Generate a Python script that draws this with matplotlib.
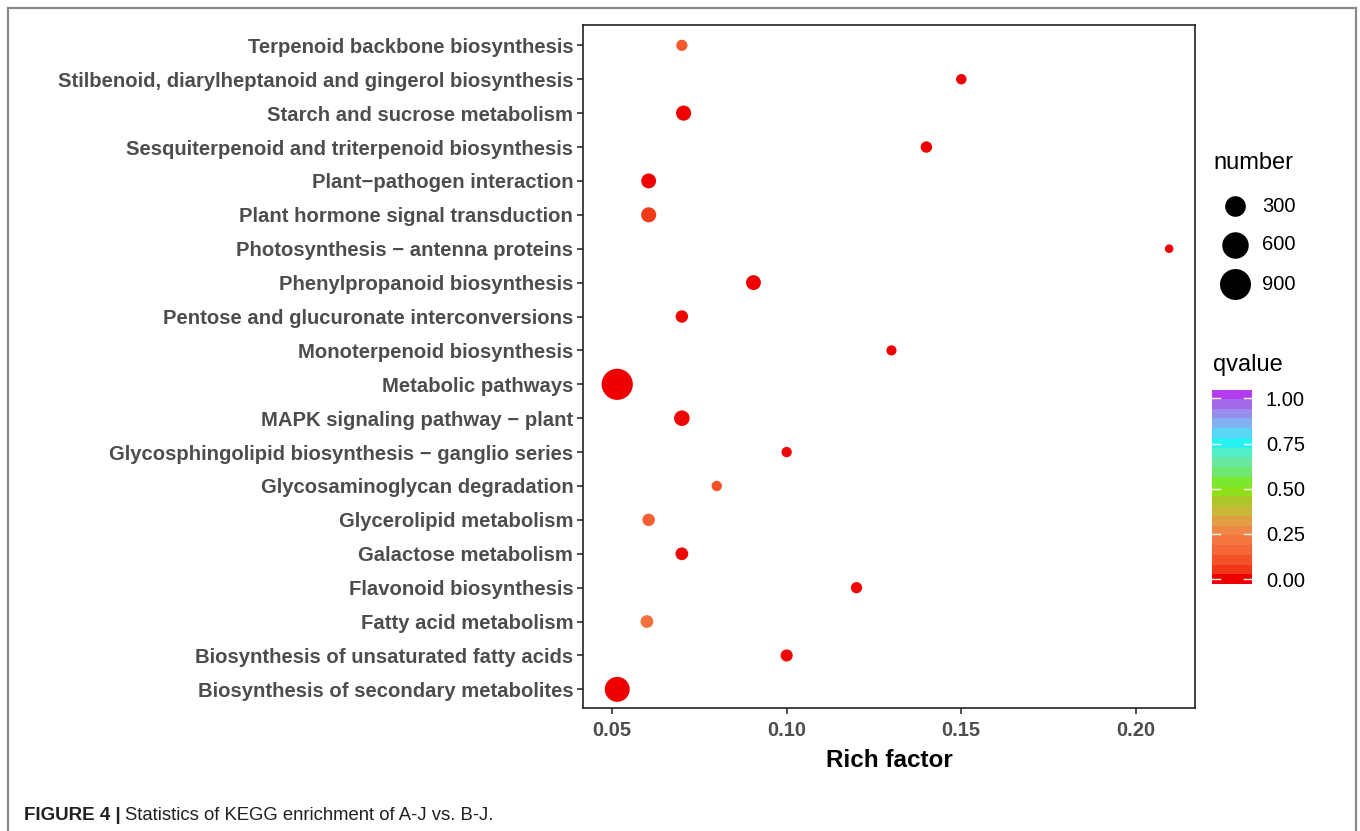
import numpy as np
import matplotlib
matplotlib.use("Agg")
import matplotlib.pyplot as plt
from matplotlib.colors import LinearSegmentedColormap
from matplotlib.lines import Line2D

plt.rcParams['font.family'] = ['Liberation Sans', 'DejaVu Sans']

# pathway data, bottom to top as drawn
pathways = [
    "Biosynthesis of secondary metabolites",
    "Biosynthesis of unsaturated fatty acids",
    "Fatty acid metabolism",
    "Flavonoid biosynthesis",
    "Galactose metabolism",
    "Glycerolipid metabolism",
    "Glycosaminoglycan degradation",
    "Glycosphingolipid biosynthesis \u2212 ganglio series",
    "MAPK signaling pathway \u2212 plant",
    "Metabolic pathways",
    "Monoterpenoid biosynthesis",
    "Pentose and glucuronate interconversions",
    "Phenylpropanoid biosynthesis",
    "Photosynthesis \u2212 antenna proteins",
    "Plant hormone signal transduction",
    "Plant\u2212pathogen interaction",
    "Sesquiterpenoid and triterpenoid biosynthesis",
    "Starch and sucrose metabolism",
    "Stilbenoid, diarylheptanoid and gingerol biosynthesis",
    "Terpenoid backbone biosynthesis",
]
rich_factor = [0.0515, 0.100, 0.060, 0.120, 0.070, 0.0605, 0.080, 0.100, 0.070, 0.0515,
               0.130, 0.070, 0.0905, 0.2095, 0.0605, 0.0605, 0.140, 0.0705, 0.150, 0.070]
number = [460, 39, 49, 27, 49, 44, 17, 17, 107, 830,
          15, 44, 90, 4, 95, 90, 29, 95, 18, 27]
qvalue = [0.0, 0.01, 0.19, 0.01, 0.01, 0.14, 0.10, 0.01, 0.01, 0.0,
          0.0, 0.01, 0.0, 0.0, 0.06, 0.0, 0.0, 0.0, 0.0, 0.12]

legend_numbers = [300, 600, 900]
q_ticks = [0.0, 0.25, 0.50, 0.75, 1.00]

# colour bands of the qvalue scale, low to high
band_colors = ["#EE0000", "#F03818", "#F45428", "#F46838", "#F47840", "#F08848",
               "#E0A040", "#C8B838", "#ACC828", "#90E018", "#7CE830", "#70E870",
               "#68EAA0", "#54F0C8", "#28F2F2", "#58D8F8", "#84B2F4", "#9890EE",
               "#A46AEA", "#B43CEE"]
cmap = LinearSegmentedColormap.from_list("qv", band_colors)


def marker_area(n, grow=1.0):
    # diameter in pixels -> area in pt^2 at 100 dpi
    d = (6.6 + 0.812 * np.sqrt(np.asarray(n, dtype=float))) * grow
    return (0.72 * d) ** 2


W, H = 1360, 831
fig = plt.figure(figsize=(W / 100, H / 100), dpi=100)

ax = fig.add_axes([583 / W, 1 - 708 / H, (1195 - 583) / W, (708 - 25) / H])
ypos = np.arange(len(pathways))
ax.scatter(rich_factor, ypos, s=marker_area(number, 1.04), c=qvalue, cmap=cmap,
           vmin=0, vmax=1, linewidths=0, zorder=3)
ax.set_xlim(0.0417, 0.2169)
ax.set_ylim(-0.55, len(pathways) - 0.4)
ax.set_yticks(ypos)
ax.set_yticklabels(pathways, fontsize=14.6, fontweight='bold', color='#4D4D4D')
ax.set_xticks([0.05, 0.10, 0.15, 0.20])
ax.set_xticklabels(["0.05", "0.10", "0.15", "0.20"], fontsize=14.5,
                   fontweight='bold', color='#4D4D4D')
ax.tick_params(length=4, width=1.2, color='#333333', pad=3)
ax.tick_params(axis='x', pad=5)
for sp in ax.spines.values():
    sp.set_linewidth(1.2)
    sp.set_color('#222222')
ax.set_xlabel("Rich factor", fontsize=17.5, fontweight='bold', color='black', labelpad=7)

# size legend
ov = fig.add_axes([0, 0, 1, 1])
ov.set_xlim(0, W)
ov.set_ylim(H, 0)
ov.axis('off')
ov.text(1213, 163, "number", fontsize=17, va='center', ha='left', color='black')
for n, yy in zip(legend_numbers, [206, 245, 284]):
    ov.scatter([1235], [yy], s=marker_area(n), color='black', linewidths=0)
    ov.text(1262, yy, str(n), fontsize=14.5, va='center', ha='left', color='black')
ov.text(1213, 365, "qvalue", fontsize=17, va='center', ha='left', color='black')

# outer frame and caption
for xs, ys in [([8, 8], [H, 8]), ([8, 1355.5], [8, 8]), ([1355.5, 1355.5], [8, H])]:
    ov.add_line(Line2D(xs, ys, color='#8A8A8A', lw=1.6))
ov.text(24, 815, "FIGURE 4 |", fontsize=13.5, fontweight='bold', va='center',
        ha='left', color='#231F20')
ov.text(125, 815, "Statistics of KEGG enrichment of A-J vs. B-J.", fontsize=13.3,
        va='center', ha='left', color='#231F20')

# qvalue colourbar
cax = fig.add_axes([1212 / W, 1 - 584 / H, 40 / W, 194 / H])
lo, hi = -0.027, 1.046
cax.imshow(np.arange(len(band_colors)).reshape(-1, 1), cmap=cmap, aspect='auto',
           origin='lower', extent=(0, 1, lo, hi), interpolation='nearest')
cax.set_xlim(0, 1)
cax.set_ylim(lo, hi)
cax.set_xticks([])
cax.yaxis.tick_right()
cax.set_yticks(q_ticks)
cax.set_yticklabels(["%.2f" % q for q in q_ticks], fontsize=14.5, color='black')
cax.tick_params(axis='y', length=0, pad=10)
for sp in cax.spines.values():
    sp.set_visible(False)
for q in q_ticks:
    cax.plot([0, 0.2], [q, q], color='white', lw=1)
    cax.plot([0.8, 1], [q, q], color='white', lw=1)

fig.savefig("out.png", dpi=100)
